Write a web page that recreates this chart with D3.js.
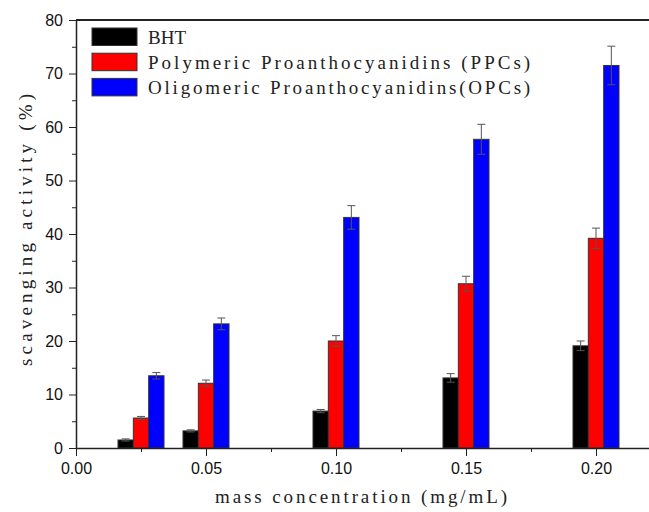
<!DOCTYPE html>
<html>
<head>
<meta charset="utf-8">
<script src="https://cdn.jsdelivr.net/npm/d3@7"></script>
<style>
  body { margin: 0; background: #fff; }
  svg { display: block; }
  .tick text { font-family: "Liberation Sans", Arial, sans-serif; font-size: 16px; fill: #111; }
  .domain, .tick line { stroke: #222; }
  .ttl { font-family: "Liberation Serif", serif; font-size: 19px; fill: #222; }
</style>
</head>
<body>
<svg id="chart"></svg>
<script>
// mass concentration (mg/mL) of each group
var concs = [0.025, 0.05, 0.10, 0.15, 0.20];
var seriesNames = ["BHT", "Polymeric Proanthocyanidins (PPCs)", "Oligomeric Proanthocyanidins(OPCs)"];
var seriesColors = ["#000000", "#ff0000", "#0000ff"];

var bhtVals = [1.5, 3.2, 6.9, 13.1, 19.1];
var ppcVals = [5.6, 12.1, 20.0, 30.7, 39.2];
var opcVals = [13.5, 23.2, 43.1, 57.7, 71.5];

var bhtErr = [0.2, 0.2, 0.3, 0.8, 0.9];
var ppcErr = [0.3, 0.6, 1.0, 1.4, 1.9];
var opcErr = [0.6, 1.1, 2.2, 2.8, 3.6];

var xTicks = [0, 0.05, 0.10, 0.15, 0.20];
var yTicks = [0, 10, 20, 30, 40, 50, 60, 70, 80];

var width = 649, height = 512;

var svg = d3.select('#chart')
    .attr('width', width)
    .attr('height', height);

var x = d3.scaleLinear().domain([0, 0.225]).range([76, 661]);
var y = d3.scaleLinear().domain([0, 80]).range([448, 20]);

var barW = x(0.0059) - x(0);

var allVals = [bhtVals, ppcVals, opcVals];
var allErr = [bhtErr, ppcErr, opcErr];

var rows = [];
allVals.forEach(function(vals, s) {
    vals.forEach(function(v, i) {
        rows.push({s: s, c: concs[i], v: v, e: allErr[s][i]});
    });
});

function cx(d) { return x(d.c) + (d.s - 1) * barW; }

// bars
svg.selectAll(".bar")
    .data(rows)
    .enter()
    .append("rect")
    .attr("class", "bar")
    .attr("x", function(d) { return cx(d) - barW / 2; })
    .attr("y", function(d) { return y(d.v); })
    .attr("width", barW)
    .attr("height", function(d) { return y(0) - y(d.v); })
    .attr("fill", function(d) { return seriesColors[d.s]; })
    .attr("stroke", "#333")
    .attr("stroke-width", 1);

// error bars
var err = svg.selectAll(".err")
    .data(rows)
    .enter()
    .append("g")
    .attr("class", "err")
    .attr("stroke", "#555")
    .attr("stroke-width", 1);

err.append("line")
    .attr("x1", cx).attr("x2", cx)
    .attr("y1", function(d) { return y(d.v - d.e); })
    .attr("y2", function(d) { return y(d.v + d.e); });
err.append("line")
    .attr("x1", function(d) { return cx(d) - 4; })
    .attr("x2", function(d) { return cx(d) + 4; })
    .attr("y1", function(d) { return y(d.v + d.e); })
    .attr("y2", function(d) { return y(d.v + d.e); });
err.append("line")
    .attr("x1", function(d) { return cx(d) - 4; })
    .attr("x2", function(d) { return cx(d) + 4; })
    .attr("y1", function(d) { return y(d.v - d.e); })
    .attr("y2", function(d) { return y(d.v - d.e); });

// top frame line
svg.append("line")
    .attr("x1", x(0)).attr("x2", x(0.225))
    .attr("y1", y(80)).attr("y2", y(80))
    .attr("stroke", "#222").attr("stroke-width", 2);

// minor ticks
svg.append("g")
    .attr("transform", "translate(0," + y(0) + ")")
    .call(d3.axisBottom(x).tickValues([0.025, 0.075, 0.125, 0.175]).tickSize(4).tickFormat(""))
    .call(function(g) { g.select(".domain").remove(); });
svg.append("g")
    .attr("transform", "translate(" + x(0) + ",0)")
    .call(d3.axisLeft(y).tickValues([5, 15, 25, 35, 45, 55, 65, 75]).tickSize(4).tickFormat(""))
    .call(function(g) { g.select(".domain").remove(); });

// major axes
svg.append("g")
    .attr("class", "x axis")
    .attr("transform", "translate(0," + y(0) + ")")
    .call(d3.axisBottom(x).tickValues(xTicks).tickSize(8).tickSizeOuter(0).tickPadding(7).tickFormat(d3.format(".2f")))
    .call(function(g) { g.select(".domain").attr("stroke-width", 1.5); });

svg.append("g")
    .attr("class", "y axis")
    .attr("transform", "translate(" + x(0) + ",0)")
    .call(d3.axisLeft(y).tickValues(yTicks).tickSize(7).tickSizeOuter(0).tickPadding(6))
    .call(function(g) { g.select(".domain").attr("stroke-width", 1.5); });

// axis titles
svg.append("text")
    .attr("class", "ttl")
    .attr("x", 361)
    .attr("y", 503)
    .attr("text-anchor", "middle")
    .attr("textLength", 292)
    .attr("lengthAdjust", "spacing")
    .text("mass concentration (mg/mL)");

svg.append("text")
    .attr("class", "ttl")
    .attr("transform", "translate(32,230) rotate(-90)")
    .attr("text-anchor", "middle")
    .attr("textLength", 272)
    .attr("lengthAdjust", "spacing")
    .text("scavenging activity (%)");

// legend
var leg = svg.selectAll(".leg")
    .data(seriesNames)
    .enter()
    .append("g")
    .attr("class", "leg")
    .attr("transform", function(d, i) { return "translate(92," + (28 + i * 25.2) + ")"; });

leg.append("rect")
    .attr("width", 45)
    .attr("height", 17.5)
    .attr("fill", function(d, i) { return seriesColors[i]; })
    .attr("stroke", "#333");

leg.append("text")
    .attr("class", "ttl")
    .attr("x", 56)
    .attr("y", 16)
    .each(function(d) {
        if (d.length > 5) {
            d3.select(this)
                .attr("textLength", d.length * 11.3 - 2)
                .attr("lengthAdjust", "spacing");
        }
    })
    .text(function(d) { return d; });
</script>
</body>
</html>
